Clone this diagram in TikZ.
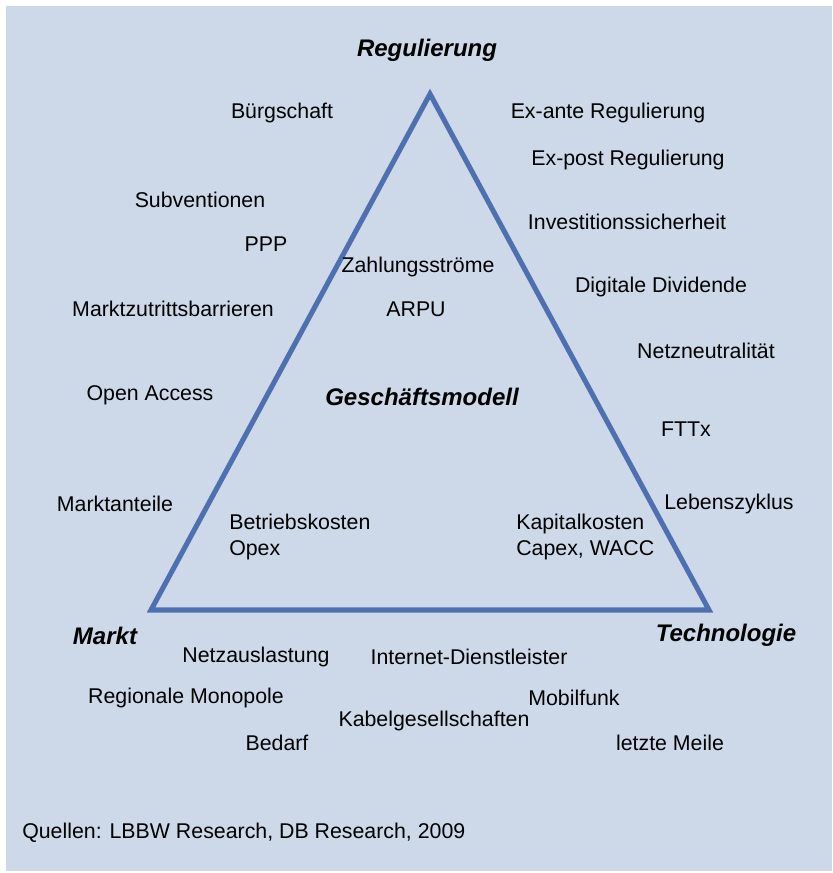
\documentclass[tikz,border=0pt]{standalone}
\usepackage{fontspec}
\setmainfont{Liberation Sans}
\definecolor{bgc}{RGB}{205,216,233}
\definecolor{tri}{RGB}{79,112,176}
\begin{document}
\begin{tikzpicture}[x=0.75pt,y=-0.75pt,
  lbl/.style={font=\fontsize{16}{18.8}\selectfont, inner sep=0pt, text=black},
  hd/.style={font=\fontsize{18}{20}\selectfont\bfseries\itshape, inner sep=0pt},
  edge/.style={draw=tri, line width=3.8pt, line join=miter}]
\useasboundingbox (0,0) rectangle (832,873);
\fill[bgc] (6,6) rectangle (832,871);
\coordinate (R) at (430,94);
\coordinate (M) at (151,610);
\coordinate (T) at (709,610);
\draw[edge] (R) -- (M) -- (T) -- cycle;
\node[hd] (reg) at (427,50) {Regulierung};
\node[hd] (gm) at (422,397) {Geschäftsmodell};
\node[hd] (mk) at (105,636) {Markt};
\node[hd] (tech) at (726,635) {Technologie};
\node[lbl] (n1) at (282,113) {Bürgschaft};
\node[lbl] (n2) at (608,113) {Ex-ante Regulierung};
\node[lbl] (n3) at (628,160) {Ex-post Regulierung};
\node[lbl] (n4) at (200,200) {Subventionen};
\node[lbl] (n5) at (266,244) {PPP};
\node[lbl] (n6) at (627,222) {Investitionssicherheit};
\node[lbl] (n7) at (418,267) {Zahlungsströme};
\node[lbl] (n8) at (416,309) {ARPU};
\node[lbl] (n9) at (661,287) {Digitale Dividende};
\node[lbl] (n10) at (173,309) {Marktzutrittsbarrieren};
\node[lbl] (n11) at (706,351) {Netzneutralität};
\node[lbl] (n12) at (150,395) {Open Access};
\node[lbl] (n13) at (686,429) {FTTx};
\node[lbl] (n14) at (115,504) {Marktanteile};
\node[lbl] (n15) at (729,504) {Lebenszyklus};
\node[lbl, anchor=west, align=left] (n16) at (229,537) {Betriebskosten\\Opex};
\node[lbl, anchor=west, align=left] (n17) at (516,537) {Kapitalkosten\\Capex, WACC};
\node[lbl] (n18) at (256,657) {Netzauslastung};
\node[lbl] (n19) at (469,657) {Internet-Dienstleister};
\node[lbl] (n20) at (186,698) {Regionale Monopole};
\node[lbl] (n21) at (574,698) {Mobilfunk};
\node[lbl] (n22) at (434,721) {Kabelgesellschaften};
\node[lbl] (n23) at (277,743) {Bedarf};
\node[lbl] (n24) at (670,743) {letzte Meile};
\node[lbl, anchor=west] (srcn) at (22,833) {Quellen: LBBW Research, DB Research, 2009};
\end{tikzpicture}
\end{document}
